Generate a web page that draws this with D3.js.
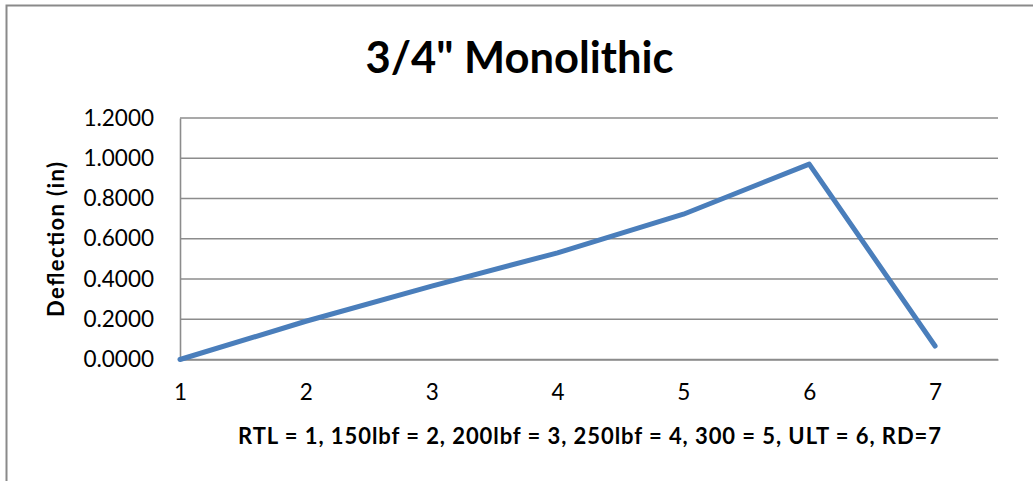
<!DOCTYPE html>
<html><head><meta charset="utf-8">
<script src="https://cdn.jsdelivr.net/npm/d3@7"></script>
<style>html,body{margin:0;padding:0;background:#fff;}svg{display:block;}</style>
</head><body>
<svg id="chart" width="1033" height="481"></svg>
<script>
const title = "3/4\" Monolithic";
const yTitle = "Deflection (in)";
const xTitle = "RTL = 1, 150lbf = 2, 200lbf = 3, 250lbf = 4, 300 = 5, ULT = 6, RD=7";
const categories = [1, 2, 3, 4, 5, 6, 7];
const deflection = [0.0, 0.19, 0.365, 0.53, 0.722, 0.971, 0.067];
const yTicks = [0, 0.2, 0.4, 0.6, 0.8, 1.0, 1.2];

(function () {
const font = "Lato, 'Open Sans', sans-serif";
const svg = d3.select("#chart");
const W = 1033, H = 481;
svg.append("rect").attr("x", 0).attr("y", 0).attr("width", W).attr("height", H).attr("fill", "#fff");
// outer chart border
svg.append("rect").attr("x", 6.5).attr("y", 5.5).attr("width", W + 20).attr("height", H + 20)
  .attr("fill", "none").attr("stroke", "#8a8a8a").attr("stroke-width", 2);

const pL = 180, pR = 998, pT = 118, pB = 359.5;
const x = d3.scaleLinear().domain([1, 7.5]).range([pL, pR]);
const y = d3.scaleLinear().domain([0, 1.2]).range([pB, pT]);

// gridlines
svg.append("g").selectAll("line").data(yTicks).join("line")
  .attr("x1", pL).attr("x2", pR)
  .attr("y1", d => y(d)).attr("y2", d => y(d))
  .attr("stroke", "#8c8c8c").attr("stroke-width", 1.6);

// y axis
const yAxis = svg.append("g").attr("transform", `translate(${pL},0)`)
  .call(d3.axisLeft(y).tickValues(yTicks).tickFormat(d3.format(".4f")).tickSize(0).tickPadding(26));
yAxis.select(".domain").attr("stroke", "#8c8c8c").attr("stroke-width", 1.6);
yAxis.selectAll("text").attr("font-family", font).attr("font-size", 22.5).attr("fill", "#000");

// x axis
const xAxis = svg.append("g").attr("transform", `translate(0,${pB})`)
  .call(d3.axisBottom(x).tickValues(categories).tickFormat(d3.format("d")).tickSize(0).tickPadding(25));
xAxis.select(".domain").attr("stroke", "#8c8c8c").attr("stroke-width", 1.6);
xAxis.selectAll("text").attr("font-family", font).attr("font-size", 22.5).attr("fill", "#000");

// line
const line = d3.line().x((d, i) => x(categories[i])).y(d => y(d));
svg.append("path").datum(deflection)
  .attr("d", line).attr("fill", "none")
  .attr("stroke", "#4a7ebb").attr("stroke-width", 5)
  .attr("stroke-linejoin", "round").attr("stroke-linecap", "round");

// titles
svg.append("text").attr("x", 519.5).attr("y", 73).attr("text-anchor", "middle")
  .attr("font-family", font).attr("font-weight", "bold").attr("font-size", 43.5)
  .attr("fill", "#000").text(title);
svg.append("text").attr("transform", "translate(64,239.5) rotate(-90)").attr("text-anchor", "middle")
  .attr("font-family", font).attr("font-weight", "bold").attr("font-size", 22)
  .attr("textLength", 155).attr("lengthAdjust", "spacing")
  .attr("fill", "#000").text(yTitle);
svg.append("text").attr("x", 589.5).attr("y", 444).attr("text-anchor", "middle")
  .attr("font-family", font).attr("font-weight", "bold").attr("font-size", 22)
  .attr("textLength", 703).attr("lengthAdjust", "spacing")
  .attr("fill", "#000").text(xTitle);
})();
</script>
</body></html>
